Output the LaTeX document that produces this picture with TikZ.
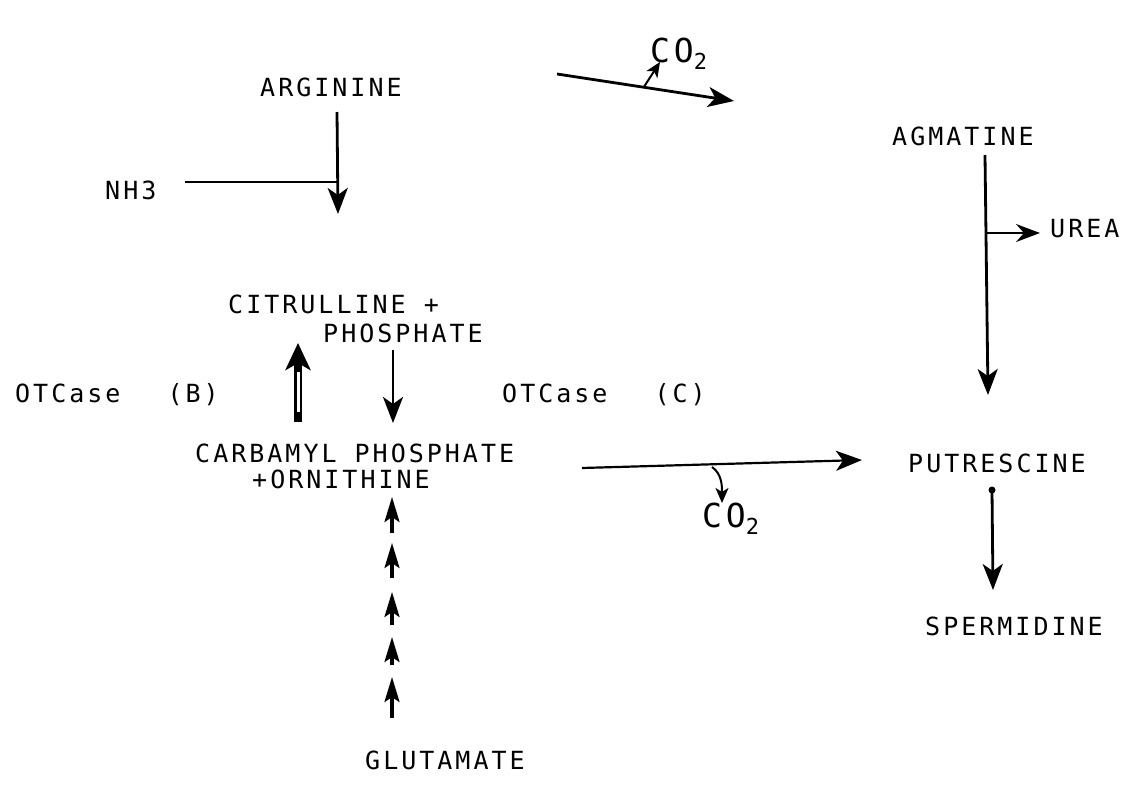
\documentclass[tikz,border=0pt]{standalone}
\usepackage{fontspec}
\usepackage{tikz}
\usetikzlibrary{arrows.meta,calc}
\newfontfamily\plotter{DejaVu Sans Mono}[LetterSpace=12]
\tikzstyle{lbl}=[inner sep=0pt, anchor=base west, font={\plotter\fontsize{25}{28}\selectfont}]
\tikzstyle{gas}=[inner sep=0pt, anchor=base west, font={\plotter\fontsize{33}{36}\selectfont}]
\tikzstyle{arr}=[line width=2.8pt, -{Stealth[length=26pt,width=20pt,inset=7pt]}]
\tikzstyle{small}=[line width=2pt, -{Stealth[length=15pt,width=13pt,inset=4pt]}]
\tikzstyle{plain}=[line width=2.4pt]
\newcommand{\cotwo}{CO\raisebox{-7pt}{\fontsize{22}{24}\selectfont 2}}

\begin{document}
\begin{tikzpicture}[x=1pt,y=-1pt]
\useasboundingbox (0,0) rectangle (1144,787);
% compounds
\node[lbl] (arginine) at (260,96) {ARGININE};
\node[lbl] (nh) at (105,199) {NH3};
\node[lbl] (citrulline) at (228,313) {CITRULLINE +};
\node[lbl] (phosphate) at (323,342) {PHOSPHATE};
\node[lbl] (otb) at (15,402) {OTCase~~\hspace{11pt}(B)};
\node[lbl] (otc) at (502,402) {OTCase~~\hspace{11pt}(C)};
\node[lbl] (carbamyl) at (195,462) {CARBAMYL PHOSPHATE};
\node[lbl] (ornithine) at (252,488) {+ORNITHINE};
\node[lbl] (glutamate) at (365,769) {GLUTAMATE};
\node[lbl] (agmatine) at (892,145) {AGMATINE};
\node[lbl] (urea) at (1050,237) {UREA};
\node[lbl] (putrescine) at (908,472) {PUTRESCINE};
\node[lbl] (spermidine) at (925,635) {SPERMIDINE};
\node[gas] (co2a) at (650,62) {\cotwo};
\node[gas] (co2b) at (702,527) {\cotwo};

% arginine -> citrulline, NH3 joins the arrow
\coordinate (argtop) at (337,112);
\coordinate (argtip) at (338,214);
\coordinate (nhjoin) at (337.5,182);
\draw[arr] (argtop) -- (argtip);
\draw[plain] ([xshift=28pt]nh.east |- nhjoin) -- (nhjoin);

% OTCase (B): open arrow up
\coordinate (bbot) at (298,422);
\coordinate (btip) at (298,343);
\draw[line width=8.5pt, -{Stealth[length=27pt,width=25pt,inset=7pt]}] (bbot) -- (btip);
\draw[white, line width=3pt] (298,412) -- (298,372);

% phosphate down to carbamyl
\draw[arr] ($(phosphate.base west)+(70,8)$) -- ($(phosphate.base west)+(70,81)$);

% glutamate -> ornithine, many steps
\foreach \t/\b in {497/533, 543/578, 592/625, 637/665, 677/718}
  \draw[line width=3.2pt, -{Stealth[length=25pt,width=15pt,inset=5pt]}] (392,\b) -- (392,\t);

% arginine -> agmatine, losing CO2
\coordinate (decA) at (557,74);
\coordinate (decAtip) at (734,101);
\coordinate (co2aend) at (660,62);
\draw[arr] (decA) -- (decAtip);
\draw[small] ($(decA)!0.49!(decAtip)$) -- (co2aend);

% agmatine -> putrescine, urea split off
\coordinate (agtop) at (985,155);
\coordinate (agtip) at (988,395);
\coordinate (ureaend) at (1040,233);
\draw[arr] (agtop) -- (agtip);
\draw[small, -{Stealth[length=24pt,width=18pt,inset=8pt]}] (986,233) -- (ureaend);

% ornithine -> putrescine, losing CO2
\coordinate (decB) at (582,468);
\coordinate (decBtip) at (862,460);
\coordinate (co2bend) at (722,503);
\draw[arr, line width=2.2pt] (decB) -- (decBtip);
\draw[small] (712,467) .. controls (722,474) and (722,486) .. (co2bend);

% putrescine -> spermidine
\coordinate (putdot) at (992,490);
\fill (putdot) circle (3.5pt);
\draw[arr] (putdot) -- (993,590);
\end{tikzpicture}
\end{document}
